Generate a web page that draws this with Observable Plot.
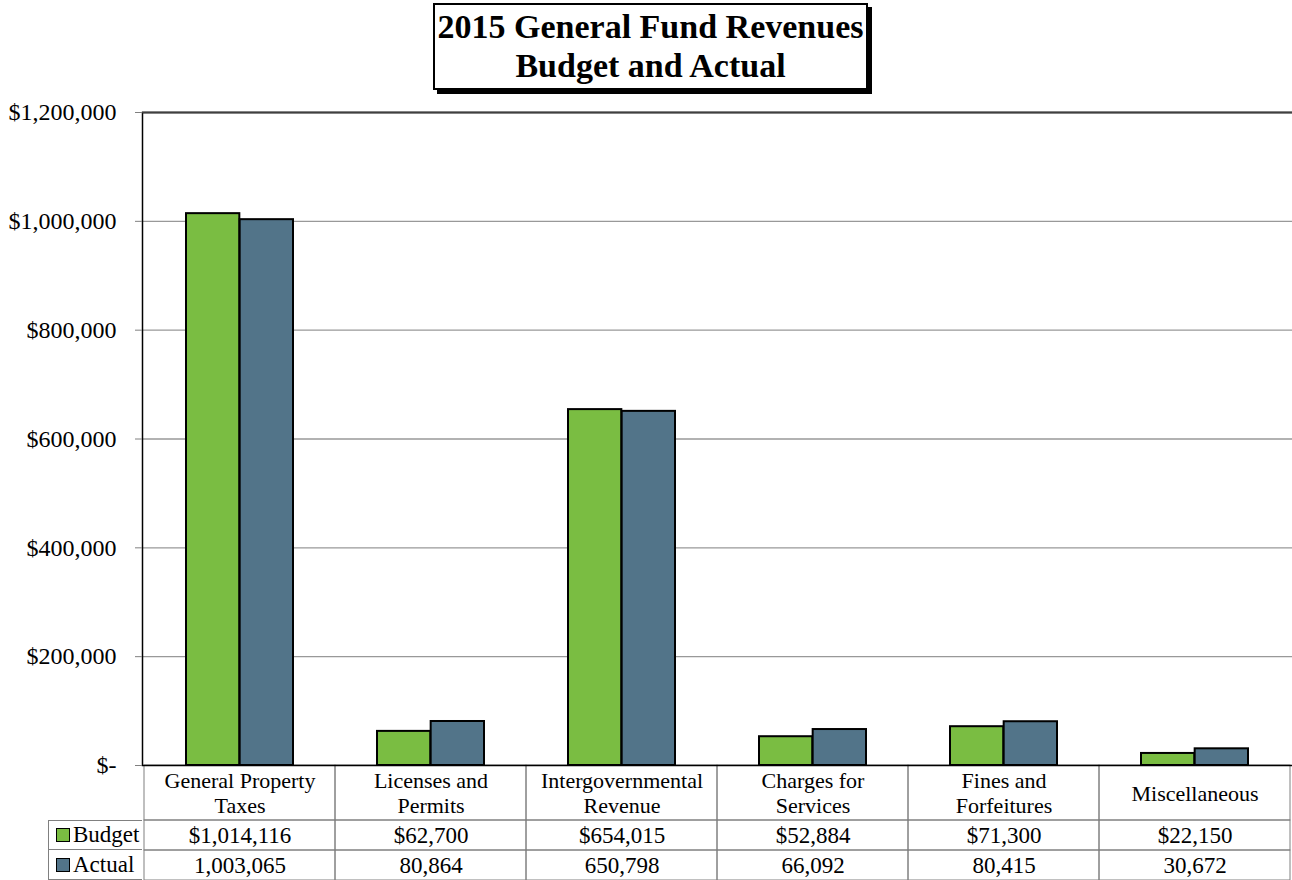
<!DOCTYPE html>
<html><head><meta charset="utf-8">
<script src="https://cdn.jsdelivr.net/npm/d3@7"></script>
<script src="https://cdn.jsdelivr.net/npm/@observablehq/plot@0.6"></script>
<style>
body{margin:0;background:#fff;font-family:"Liberation Serif","Times New Roman",serif;}
#wrap{position:relative;width:1292px;height:880px;overflow:hidden;background:#fff;}
#chart{position:absolute;left:0;top:0;}
#title{position:absolute;left:433px;top:3px;width:431px;height:81px;border:2px solid #000;box-shadow:4px 4px 0 #000;background:#fff;text-align:center;font-weight:bold;font-size:34px;line-height:39px;padding-top:2px;color:#000;}
.lrow{position:absolute;left:48px;width:94px;height:30px;border-left:1px solid #808080;border-bottom:1px solid #808080;box-sizing:border-box;font-size:23px;display:flex;align-items:center;padding-left:7px;color:#000;}
.sw{display:inline-block;width:12px;height:12px;border:1px solid #000;margin-right:3px;}
</style>
</head><body>
<div id="wrap">
  <div id="chart"></div>
  <div id="title">2015 General Fund Revenues<br>Budget and Actual</div>
  <div id="legend"></div>
</div>
<script>
const categories = ["General Property Taxes","Licenses and Permits","Intergovernmental Revenue","Charges for Services","Fines and Forfeitures","Miscellaneous"];
const categoryLabels = ["General Property\nTaxes","Licenses and\nPermits","Intergovernmental\nRevenue","Charges for\nServices","Fines and\nForfeitures","Miscellaneous"];
const budget = [1014116, 62700, 654015, 52884, 71300, 22150];
const actual = [1003065, 80864, 650798, 66092, 80415, 30672];
const seriesNames = ["Budget","Actual"];
const seriesColors = ["#7abd42","#527489"];
const yTicks = [0, 200000, 400000, 600000, 800000, 1000000, 1200000];

const comma = d3.format(",");
const rows = categories.map((c, i) => ({category: c, label: categoryLabels[i], budget: budget[i], actual: actual[i]}));
const fmtY = d => d === 0 ? "$-" : "$" + comma(d);

const W = 1292, H = 880;
const plot = Plot.plot({
  width: W, height: H,
  marginTop: 112, marginBottom: 115, marginLeft: 142, marginRight: 0,
  style: {fontFamily: "'Liberation Serif','Times New Roman',serif", background: "transparent", color: "#000"},
  x: {domain: categories, padding: 0, axis: null},
  y: {domain: [0, 1200000], axis: null},
  marks: [
    Plot.ruleY(yTicks.filter(d => d > 0), {stroke: d => d === 1200000 ? "#404040" : "#999999", strokeWidth: 1.3}),
    // data table cells (header row, budget row, actual row)
    Plot.barY(rows, {x: "category", y1: () => 0, y2: () => 0, fill: "none", stroke: "#808080", strokeWidth: 1, insetTop: 0, insetBottom: -55}),
    Plot.barY(rows, {x: "category", y1: () => 0, y2: () => 0, fill: "none", stroke: "#808080", strokeWidth: 1, insetTop: 55, insetBottom: -85}),
    Plot.barY(rows, {x: "category", y1: () => 0, y2: () => 0, fill: "none", stroke: "#808080", strokeWidth: 1, insetTop: 85, insetBottom: -115}),
    Plot.barY(rows, {x: "category", y: "budget", fill: seriesColors[0], stroke: "#000", strokeWidth: 2, insetLeft: 42, insetRight: 95.67}),
    Plot.barY(rows, {x: "category", y: "actual", fill: seriesColors[1], stroke: "#000", strokeWidth: 2, insetLeft: 95.67, insetRight: 42}),
    Plot.frame({stroke: "#000", strokeWidth: 1.5, insetRight: -10, insetTop: 0}),
    Plot.ruleY([1200000], {stroke: "#404040", strokeWidth: 1.5}),
    Plot.axisY({ticks: yTicks, tickFormat: fmtY, tickSize: 7, tickPadding: 19, fontSize: 24, stroke: "#808080", fill: "#000", label: null}),
    Plot.text(rows, {x: "category", text: "label", frameAnchor: "bottom", dy: 27, lineAnchor: "middle", fontSize: 22, lineHeight: 1.15, fill: "#000"}),
    Plot.text(rows, {x: "category", text: d => "$" + comma(d.budget), frameAnchor: "bottom", dy: 70, lineAnchor: "middle", fontSize: 23, fill: "#000"}),
    Plot.text(rows, {x: "category", text: d => comma(d.actual), frameAnchor: "bottom", dy: 100, lineAnchor: "middle", fontSize: 23, fill: "#000"})
  ]
});
document.getElementById("chart").appendChild(plot);

const legend = document.getElementById("legend");
seriesNames.forEach((name, i) => {
  const row = document.createElement("div");
  row.className = "lrow";
  row.style.top = (820 + i * 30) + "px";
  if (i === 0) row.style.borderTop = "1px solid #808080";
  const sw = document.createElement("span");
  sw.className = "sw";
  sw.style.background = seriesColors[i];
  row.appendChild(sw);
  row.appendChild(document.createTextNode(name));
  legend.appendChild(row);
});
</script>
</body></html>
